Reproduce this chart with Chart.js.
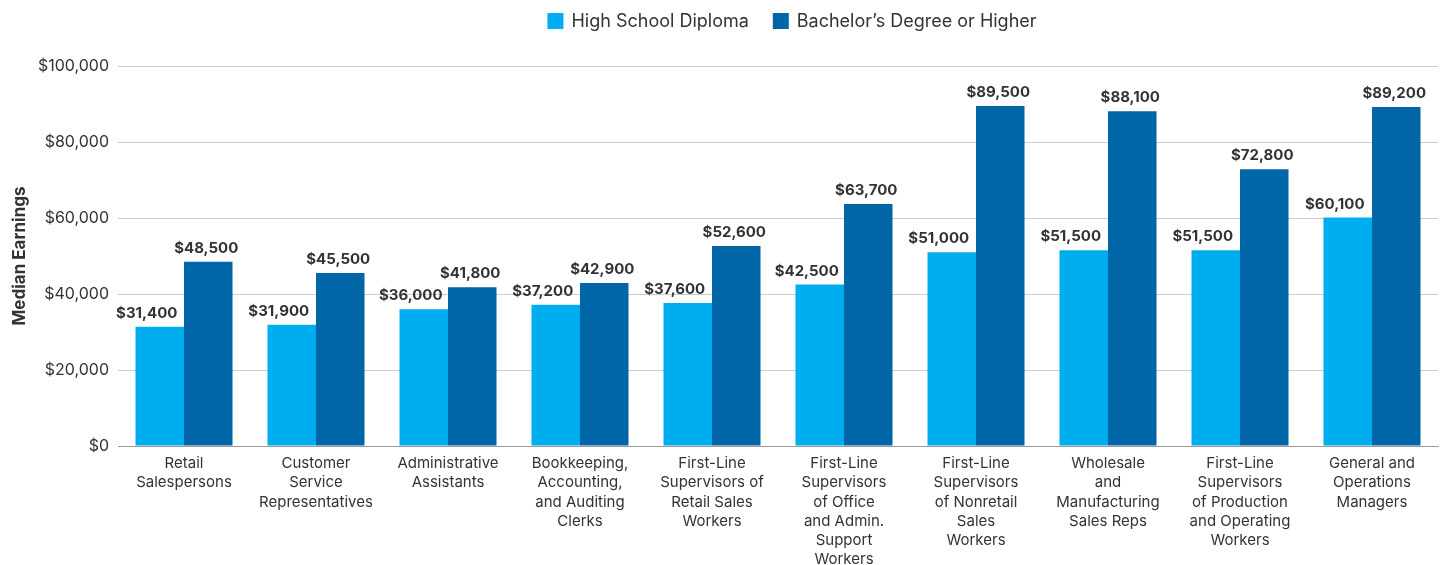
<!DOCTYPE html>
<html><head><meta charset="utf-8">
<script src="https://cdn.jsdelivr.net/npm/chart.js@4.4.1/dist/chart.umd.min.js"></script>
<style>html,body{margin:0;padding:0;background:#fff}#wrap{width:1444px;height:565px;position:relative}</style>
</head><body><div id="wrap"><canvas id="c"></canvas></div>
<script>
const categories = [
  ["Retail","Salespersons"],
  ["Customer","Service","Representatives"],
  ["Administrative","Assistants"],
  ["Bookkeeping,","Accounting,","and Auditing","Clerks"],
  ["First-Line","Supervisors of","Retail Sales","Workers"],
  ["First-Line","Supervisors","of Office","and Admin.","Support","Workers"],
  ["First-Line","Supervisors","of Nonretail","Sales","Workers"],
  ["Wholesale","and","Manufacturing","Sales Reps"],
  ["First-Line","Supervisors","of Production","and Operating","Workers"],
  ["General and","Operations","Managers"]
];
const highSchool = [31400,31900,36000,37200,37600,42500,51000,51500,51500,60100];
const bachelors  = [48500,45500,41800,42900,52600,63700,89500,88100,72800,89200];
const yTicks = [0,20000,40000,60000,80000,100000];
const seriesNames = ['High School Diploma','Bachelor\u2019s Degree or Higher'];
const seriesColors = ['#00AEEF','#0066A8'];

const fmt = v => '$' + v.toLocaleString('en-US');
const FONT = 'Inter, "Liberation Sans", sans-serif';
const labelShift = [-13, -2];

const labelPlugin = {
  id:'barLabels',
  afterDatasetsDraw(chart){
    const ctx = chart.ctx;
    ctx.save();
    ctx.font = 'bold 15px ' + FONT;
    ctx.fillStyle = '#333';
    ctx.textAlign = 'center';
    ctx.textBaseline = 'alphabetic';
    chart.data.datasets.forEach((ds,i)=>{
      chart.getDatasetMeta(i).data.forEach((bar,j)=>{
        ctx.fillText(fmt(ds.data[j]), bar.x + labelShift[i], bar.y - 9);
      });
    });
    ctx.restore();
  }
};

const legendPlugin = {
  id:'customLegend',
  afterDraw(chart){
    const ctx = chart.ctx;
    const ca = chart.chartArea;
    ctx.save();
    ctx.font = '18px ' + FONT;
    const box = 16, gapText = 8, gapItem = 24;
    const widths = chart.data.datasets.map(d=>ctx.measureText(d.label).width);
    let total = 0;
    widths.forEach((w,i)=>{ total += box + gapText + w + (i<widths.length-1?gapItem:0); });
    let x = (ca.left + ca.right)/2 - total/2 + 14;
    const y = 22;
    ctx.textBaseline = 'middle';
    ctx.textAlign = 'left';
    chart.data.datasets.forEach((d,i)=>{
      ctx.fillStyle = d.backgroundColor;
      ctx.fillRect(x, y - box/2 - 1, box, box);
      x += box + gapText;
      ctx.fillStyle = '#333';
      ctx.fillText(d.label, x, y);
      x += widths[i] + gapItem;
    });
    ctx.restore();
  }
};

new Chart(document.getElementById('c'), {
  type:'bar',
  data:{
    labels: categories,
    datasets:[
      {label:seriesNames[0], data:highSchool, backgroundColor:seriesColors[0]},
      {label:seriesNames[1], data:bachelors, backgroundColor:seriesColors[1]}
    ]
  },
  options:{
    responsive:true, maintainAspectRatio:false, animation:false,
    layout:{padding:{top:66,right:6,left:0,bottom:0}},
    categoryPercentage:0.735, barPercentage:1.0,
    plugins:{
      legend:{display:false},
      tooltip:{enabled:false}
    },
    scales:{
      x:{
        grid:{display:false},
        border:{color:'#999'},
        afterFit(s){ s.height = 119; },
        ticks:{font:{family:FONT,size:15,lineHeight:1.28}, color:'#333', maxRotation:0, autoSkip:false, padding:0}
      },
      y:{
        min:0, max:100000,
        afterBuildTicks(s){ s.ticks = yTicks.map(v=>({value:v})); },
        afterFit(s){ s.width = 118; },
        grid:{color:'#ccc', drawTicks:false},
        border:{display:false},
        ticks:{font:{family:FONT,size:16}, color:'#333', padding:9, callback:v=>fmt(v)},
        title:{display:true, text:'Median Earnings', font:{family:FONT,size:17,weight:'bold'}, color:'#333', padding:{top:10,bottom:0}}
      }
    }
  },
  plugins:[labelPlugin, legendPlugin]
});
</script></body></html>
